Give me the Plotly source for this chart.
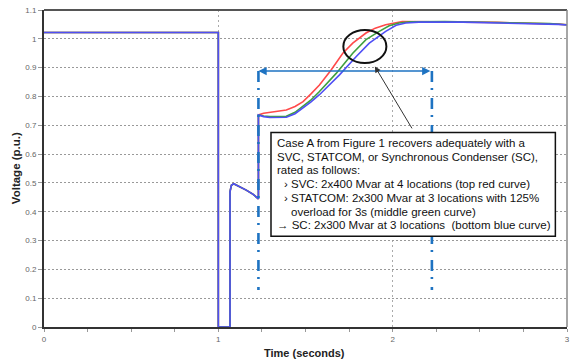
import plotly.graph_objects as go

# ---------------- data ----------------
t_fault = [0.0, 1.0, 1.0, 1.067, 1.067, 1.075, 1.088, 1.12, 1.16, 1.20, 1.23, 1.23]
v_fault = [1.022, 1.022, 0.0, 0.0, 0.47, 0.492, 0.497, 0.488, 0.475, 0.46, 0.445, 0.736]

t_svc = [1.26, 1.30, 1.39, 1.44, 1.486, 1.53, 1.58, 1.647, 1.714, 1.771, 1.847, 1.90, 1.96,
         2.055, 2.2, 2.4, 2.6, 2.8, 2.95, 3.0]
v_svc = [0.742, 0.745, 0.753, 0.765, 0.782, 0.808, 0.840, 0.892, 0.950, 0.985, 1.020, 1.037, 1.049,
         1.060, 1.060, 1.058, 1.057, 1.055, 1.051, 1.049]

t_statcom = [1.26, 1.296, 1.39, 1.44, 1.486, 1.53, 1.58, 1.676, 1.771, 1.847, 1.923, 1.98, 2.036,
             2.1, 2.3, 2.5, 2.7, 2.9, 3.0]
v_statcom = [0.732, 0.730, 0.731, 0.745, 0.765, 0.787, 0.817, 0.880, 0.950, 0.997, 1.026, 1.045, 1.055,
             1.059, 1.060, 1.058, 1.057, 1.053, 1.049]

t_sc = [1.26, 1.296, 1.39, 1.44, 1.486, 1.53, 1.58, 1.695, 1.79, 1.866, 1.96, 2.02, 2.075,
        2.15, 2.4, 2.6, 2.8, 2.95, 3.0]
v_sc = [0.730, 0.727, 0.728, 0.740, 0.759, 0.780, 0.806, 0.875, 0.938, 0.985, 1.026, 1.047, 1.055,
        1.058, 1.058, 1.056, 1.054, 1.050, 1.048]

y_ticks = [0, 0.1, 0.2, 0.3, 0.4, 0.5, 0.6, 0.7, 0.8, 0.9, 1.0, 1.1]
y_tick_text = ["0", "0.1", "0.2", "0.3", "0.4", "0.5", "0.6", "0.7", "0.8", "0.9", "1", "1.1"]
x_ticks = [0, 1, 2, 3]
x_tick_text = ["0", "1", "2", "3"]

box_lines = [
    "Case A from Figure 1 recovers adequately with a",
    "SVC, STATCOM, or Synchronous Condenser (SC),",
    "rated as follows:",
    "\u203a SVC: 2x400 Mvar at 4 locations (top red curve)",
    "\u203a STATCOM: 2x300 Mvar at 3 locations with 125%",
    "overload for 3s (middle green curve)",
    "\u2192 SC: 2x300 Mvar at 3 locations \u00a0(bottom blue curve)",
]

# ---------------- layout helpers (pixel -> paper) ----------------
L, R, T, B = 44, 570, 10, 327
W, H = 576, 360


def px(x):
    return (x - L) / (R - L)


def py(y):
    return (B - y) / (B - T)


FONT = "Liberation Sans, Arial, sans-serif"

fig = go.Figure()

series = [
    ("SVC", t_svc, v_svc, "#ff4a4a"),
    ("STATCOM", t_statcom, v_statcom, "#3f9f3f"),
    ("SC", t_sc, v_sc, "#4f4ff5"),
]
for name, ts, vs, col in series:
    fig.add_trace(go.Scatter(
        x=t_fault + ts, y=v_fault + vs, mode="lines", name=name,
        line=dict(color=col, width=1.6), showlegend=False, hoverinfo="skip"))

shapes = []
dd_col = "#1e73c2"
# dash-dot vertical markers
for xv in (1.23, 2.225):
    shapes.append(dict(type="line", xref="x", yref="y", x0=xv, x1=xv, y0=0.888, y1=0.128,
                       line=dict(color=dd_col, width=2.6, dash="11px,6px,2px,8px"), layer="above"))
# ellipse highlight
shapes.append(dict(type="circle", xref="x", yref="y", x0=1.717, x1=1.964, y0=0.916, y1=1.031,
                   line=dict(color="#111111", width=2)))
# text box
shapes.append(dict(type="rect", xref="paper", yref="paper",
                   x0=px(272.3), x1=px(558.3), y0=py(236.3), y1=py(132.5),
                   fillcolor="white", line=dict(color="#111111", width=1.5), layer="above"))
# top and right frame
shapes.append(dict(type="line", xref="paper", yref="paper", x0=0, x1=1, y0=1, y1=1,
                   line=dict(color="#555555", width=2)))
shapes.append(dict(type="line", xref="paper", yref="paper", x0=1, x1=1, y0=0, y1=1,
                   line=dict(color="#888888", width=1.5)))

annotations = []
# double-headed arrow
annotations.append(dict(x=1.23, y=0.888, ax=2.225, ay=0.888, xref="x", yref="y",
                        axref="x", ayref="y", text="", showarrow=True,
                        arrowside="end+start", arrowhead=2, arrowsize=1.1,
                        arrowwidth=1.5, arrowcolor=dd_col))
# pointer arrow from box to ellipse
annotations.append(dict(x=1.898, y=0.904, ax=2.116, ay=0.684, xref="x", yref="y",
                        axref="x", ayref="y", text="", showarrow=True,
                        arrowhead=2, arrowsize=1.2, arrowwidth=1, arrowcolor="#333333"))

# box text
line_x = [276.7, 276.7, 276.7, 283.5, 283.5, 290.0, 276.0]
for i, (txt, lx) in enumerate(zip(box_lines, line_x)):
    annotations.append(dict(x=px(lx), y=py(143 + i * 13.7), xref="paper", yref="paper",
                            xanchor="left", yanchor="middle", showarrow=False, text=txt,
                            font=dict(family=FONT, size=11.5, color="#111111")))

# axis titles
annotations.append(dict(x=px(306), y=py(352.5), xref="paper", yref="paper", showarrow=False,
                        text="<b>Time (seconds)</b>", xanchor="center", yanchor="middle",
                        font=dict(family=FONT, size=11, color="#222222")))
annotations.append(dict(x=px(16), y=py(168), xref="paper", yref="paper", showarrow=False,
                        text="<b>Voltage (p.u.)</b>", textangle=-90, xanchor="center",
                        yanchor="middle", font=dict(family=FONT, size=11.5, color="#222222")))

fig.update_layout(
    width=W, height=H,
    margin=dict(l=L, r=W - R, t=T, b=H - B, pad=0),
    paper_bgcolor="white", plot_bgcolor="white",
    font=dict(family=FONT, size=8, color="#666666"),
    shapes=shapes, annotations=annotations,
    xaxis=dict(range=[0, 3], tickvals=x_ticks, ticktext=x_tick_text,
               showgrid=True, gridcolor="#aaaaaa", griddash="2px,3px", gridwidth=1.2,
               showline=True, linecolor="#333333", linewidth=2,
               ticks="outside", ticklen=3, tickcolor="#999999",
               minor=dict(dtick=0.25, tick0=0, ticks="outside", ticklen=3,
                          tickcolor="#999999", showgrid=False),
               tickfont=dict(size=8, color="#666666"), zeroline=False, fixedrange=True),
    yaxis=dict(range=[0, 1.1], tickvals=y_ticks, ticktext=y_tick_text,
               showgrid=True, gridcolor="#999999", griddash="2px,2px", gridwidth=1,
               showline=True, linecolor="#333333", linewidth=2,
               ticks="outside", ticklen=4, tickcolor="#999999",
               tickfont=dict(size=8, color="#666666"), zeroline=False, fixedrange=True),
)

fig.write_html("out.html")
